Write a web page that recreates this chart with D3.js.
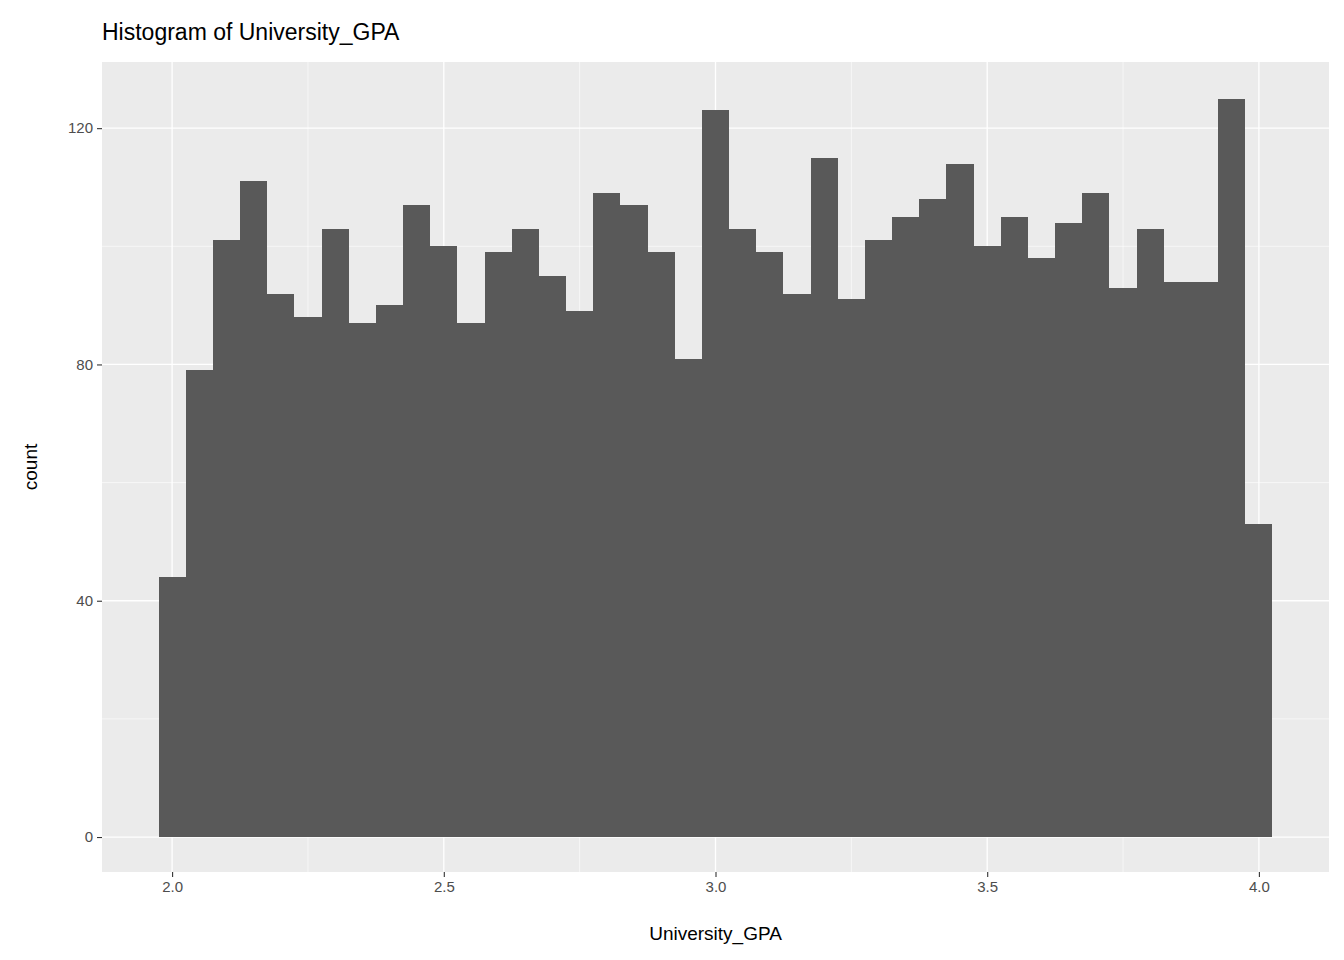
<!DOCTYPE html>
<html>
<head>
<meta charset="utf-8">
<script src="https://cdn.jsdelivr.net/npm/d3@7"></script>
<style>
  body { margin: 0; background: #fff; }
  text { font-family: "Liberation Sans", Arial, sans-serif; }
</style>
</head>
<body>
<div id="chart-area"></div>
<script>
// bin centres and counts (binwidth 0.05)
const binCenters = d3.range(41).map(i => +(2 + i * 0.05).toFixed(2))
const counts = [44, 79, 101, 111, 92, 88, 103, 87, 90, 107, 100, 87, 99, 103, 95, 89, 109, 107, 99, 81,
  123, 103, 99, 92, 115, 91, 101, 105, 108, 114, 100, 105, 98, 104, 109, 93, 103, 94, 94, 125, 53]
const binWidth = 0.05
const xTicks = [2.0, 2.5, 3.0, 3.5, 4.0]
const xMinor = [2.25, 2.75, 3.25, 3.75]
const yTicks = [0, 40, 80, 120]
const yMinor = [20, 60, 100]

const W = 1344, H = 960
const margin = {left: 102, right: 15, top: 62, bottom: 88}
const width = W - margin.left - margin.right
const height = H - margin.top - margin.bottom

const svg = d3.select("#chart-area").append("svg")
    .attr("width", W)
    .attr("height", H)

const g = svg.append("g")
    .attr("transform", `translate(${margin.left}, ${margin.top})`)

const x = d3.scaleLinear().domain([1.871, 4.129]).range([0, width])
const y = d3.scaleLinear().domain([-5.92, 131.2]).range([height, 0])

// panel
g.append("rect").attr("width", width).attr("height", height).attr("fill", "#ebebeb")

g.selectAll(".xminor").data(xMinor).enter().append("line")
    .attr("x1", d => x(d)).attr("x2", d => x(d)).attr("y1", 0).attr("y2", height)
    .attr("stroke", "#fff").attr("stroke-width", 0.6)
g.selectAll(".yminor").data(yMinor).enter().append("line")
    .attr("y1", d => y(d)).attr("y2", d => y(d)).attr("x1", 0).attr("x2", width)
    .attr("stroke", "#fff").attr("stroke-width", 0.6)
g.selectAll(".xmajor").data(xTicks).enter().append("line")
    .attr("x1", d => x(d)).attr("x2", d => x(d)).attr("y1", 0).attr("y2", height)
    .attr("stroke", "#fff").attr("stroke-width", 1.3)
g.selectAll(".ymajor").data(yTicks).enter().append("line")
    .attr("y1", d => y(d)).attr("y2", d => y(d)).attr("x1", 0).attr("x2", width)
    .attr("stroke", "#fff").attr("stroke-width", 1.3)

// bars
g.selectAll(".bar").data(binCenters).enter().append("rect")
    .attr("x", d => x(d - binWidth / 2))
    .attr("width", x(binWidth) - x(0))
    .attr("y", (d, i) => y(counts[i]))
    .attr("height", (d, i) => y(0) - y(counts[i]))
    .attr("fill", "#595959")
    .attr("shape-rendering", "crispEdges")

// axes
const xAxis = g.append("g").attr("transform", `translate(0, ${height})`)
    .call(d3.axisBottom(x).tickValues(xTicks).tickFormat(d3.format(".1f")).tickSize(5).tickPadding(4))
const yAxis = g.append("g")
    .call(d3.axisLeft(y).tickValues(yTicks).tickSize(5).tickPadding(4))
;[xAxis, yAxis].forEach(a => {
  a.select(".domain").remove()
  a.selectAll("line").attr("stroke", "#333").attr("stroke-width", 1.1)
  a.selectAll("text").attr("fill", "#4d4d4d").attr("font-size", "15px")
    .attr("font-family", "Liberation Sans, Arial, sans-serif")
})

// labels
svg.append("text")
    .attr("x", margin.left + width / 2).attr("y", 940)
    .attr("text-anchor", "middle").attr("font-size", "19px")
    .text("University_GPA")

svg.append("text")
    .attr("transform", `translate(37, ${margin.top + height / 2}) rotate(-90)`)
    .attr("text-anchor", "middle").attr("font-size", "19px")
    .text("count")

svg.append("text")
    .attr("x", margin.left).attr("y", 40)
    .attr("font-size", "23px")
    .text("Histogram of University_GPA")
</script>
</body>
</html>
